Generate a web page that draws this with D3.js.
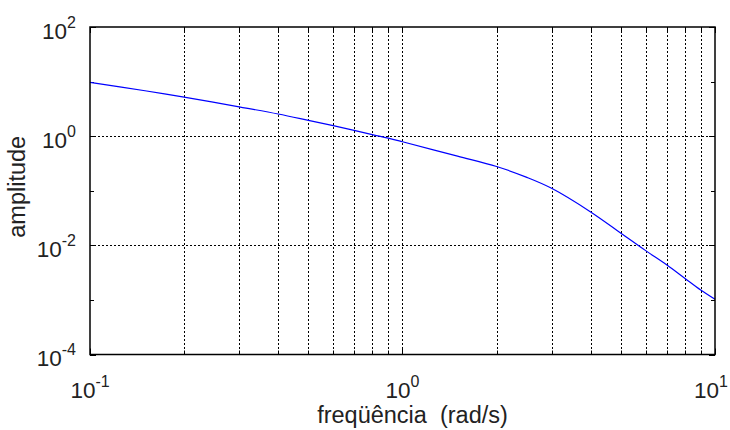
<!DOCTYPE html>
<html>
<head>
<meta charset="utf-8">
<script src="https://cdn.jsdelivr.net/npm/d3@7"></script>
<style>
body { margin: 0; background: #fff; }
text { font-family: "Liberation Sans", Arial, sans-serif; fill: #222; }
</style>
</head>
<body>
<div id="chart"></div>
<script>
// values
var freq = [0.1, 0.15, 0.2, 0.3, 0.4, 0.5, 0.6, 0.7, 0.8, 0.9, 1, 1.5, 2, 2.5, 3, 4, 5, 6, 7, 8, 9, 10];
var amp = [9.7, 6.8, 5.2, 3.45, 2.55, 1.95, 1.56, 1.28, 1.07, 0.92, 0.79, 0.43, 0.278, 0.176, 0.111, 0.041, 0.0167, 0.008, 0.0044, 0.0025, 0.00152, 0.00103];

var xMajor = [0.1, 1, 10];
var xLabels = ["-1", "0", "1"];
var yMajor = [1e-4, 1e-2, 1, 100];
var yLabels = ["-4", "-2", "0", "2"];
var yMinor = [1e-3, 1e-1, 10];

var svgWidth = 730;
var svgHeight = 430;

var margin = { top: 27, right: 15, bottom: 75.5, left: 90 };
var width = svgWidth - margin.left - margin.right;
var height = svgHeight - margin.top - margin.bottom;

var svg = d3.select("#chart")
  .append("svg")
  .attr("width", svgWidth)
  .attr("height", svgHeight);

var chartGroup = svg.append("g")
  .attr("transform", `translate(${margin.left}, ${margin.top})`);

var xScale = d3.scaleLog().domain([0.1, 10]).range([0, width]);
var yScale = d3.scaleLog().domain([1e-4, 100]).range([height, 0]);

// all x grid positions: 1..9 in each decade
var xGrid = [];
[0.1, 1].forEach(function(d) {
  for (var k = 1; k <= 9; k++) xGrid.push(+(d * k).toPrecision(3));
});
xGrid = xGrid.filter(d => d > 0.1 && d < 10);

// grid lines
var gridStyle = function(sel) {
  sel.attr("stroke", "#000")
    .attr("stroke-width", 1)
    .attr("stroke-dasharray", "2,2")
    .attr("shape-rendering", "crispEdges");
};

chartGroup.selectAll(".xgrid")
  .data(xGrid)
  .enter()
  .append("line")
  .attr("class", "xgrid")
  .attr("x1", d => Math.round(xScale(d)) + 0.5)
  .attr("x2", d => Math.round(xScale(d)) + 0.5)
  .attr("y1", 0)
  .attr("y2", height)
  .call(gridStyle);

chartGroup.selectAll(".ygrid")
  .data(yMajor.slice(1, 3))
  .enter()
  .append("line")
  .attr("class", "ygrid")
  .attr("x1", 0)
  .attr("x2", width)
  .attr("y1", d => Math.round(yScale(d)) + 0.5)
  .attr("y2", d => Math.round(yScale(d)) + 0.5)
  .call(gridStyle);

// tick marks (inward), on all four sides
var tickLen = 6;
var minorLen = 4;
var allY = yMajor.concat(yMinor);

chartGroup.selectAll(".ytick")
  .data(allY)
  .enter()
  .append("path")
  .attr("class", "ytick")
  .attr("d", function(d) {
    var y = Math.round(yScale(d)) + 0.5;
    var l = yMajor.indexOf(d) >= 0 ? tickLen : minorLen;
    return `M0,${y}H${l}M${width},${y}H${width - l}`;
  })
  .attr("stroke", "#000");

chartGroup.selectAll(".xtick")
  .data(xGrid.concat(xMajor))
  .enter()
  .append("path")
  .attr("class", "xtick")
  .attr("d", function(d) {
    var x = Math.round(xScale(d)) + 0.5;
    var l = xMajor.indexOf(d) >= 0 ? tickLen : minorLen;
    return `M${x},0V${l}M${x},${height}V${height - l}`;
  })
  .attr("stroke", "#000");

// curve
var line = d3.line()
  .x((d, i) => xScale(freq[i]))
  .y(d => yScale(d))
  .curve(d3.curveCatmullRom.alpha(0.5));

chartGroup.append("path")
  .datum(amp)
  .attr("d", line)
  .attr("fill", "none")
  .attr("stroke", "#0000ff")
  .attr("stroke-width", 1.2);

// box
chartGroup.append("rect")
  .attr("x", 0)
  .attr("y", 0)
  .attr("width", width)
  .attr("height", height)
  .attr("fill", "none")
  .attr("stroke", "#000")
  .attr("stroke-width", 1.5);

// tick labels: 10 with superscript
function powerLabel(g, exp) {
  g.append("tspan").attr("font-size", "22.5px").text("10");
  g.append("tspan").attr("font-size", "16px").attr("dy", "-11").text(exp);
}

chartGroup.selectAll(".xlabel")
  .data(xMajor)
  .enter()
  .append("text")
  .attr("class", "xlabel")
  .attr("x", (d, i) => i === xMajor.length - 1 ? width + margin.right - 2 : xScale(d))
  .attr("y", height + 43)
  .attr("text-anchor", (d, i) => i === xMajor.length - 1 ? "end" : "middle")
  .each(function(d, i) { powerLabel(d3.select(this), xLabels[i]); });

chartGroup.selectAll(".ylabel")
  .data(yMajor)
  .enter()
  .append("text")
  .attr("class", "ylabel")
  .attr("x", -14)
  .attr("y", d => yScale(d) + 11.5)
  .attr("text-anchor", "end")
  .each(function(d, i) { powerLabel(d3.select(this), yLabels[i]); });

// axis titles
chartGroup.append("text")
  .attr("transform", "rotate(-90)")
  .attr("x", -(height / 2) + 4)
  .attr("y", 25 - margin.left)
  .attr("text-anchor", "middle")
  .attr("font-size", "23.5px")
  .text("amplitude");

chartGroup.append("text")
  .attr("x", width / 2 + 10)
  .attr("y", height + 68)
  .attr("text-anchor", "middle")
  .attr("font-size", "23.5px")
  .attr("xml:space", "preserve")
  .style("white-space", "pre")
  .text("freqüência  (rad/s)");
</script>
</body>
</html>
